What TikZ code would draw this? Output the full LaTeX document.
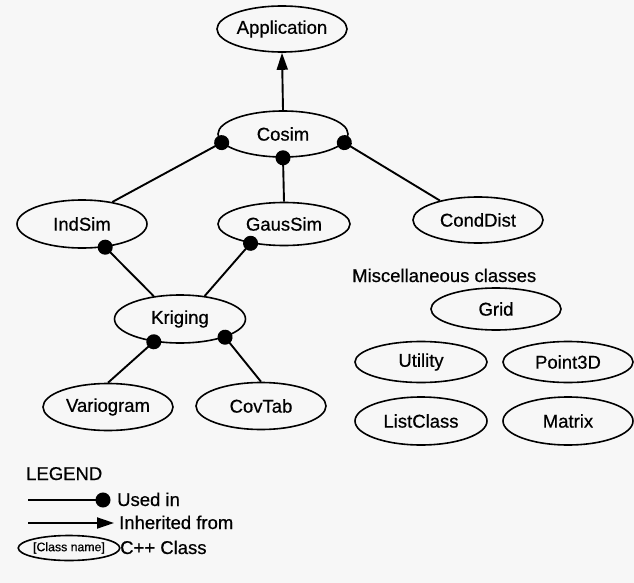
\documentclass[tikz,border=0pt]{standalone}
\usepackage{fontspec}
\setmainfont{Liberation Sans}[FakeBold=0.6]
\usetikzlibrary{shapes.geometric,arrows.meta}
\definecolor{bgcol}{RGB}{247,247,247}
\tikzset{
  cls/.style={draw, ellipse, line width=1.6pt, inner sep=0pt,
    minimum width=130pt, minimum height=46pt,
    font=\fontsize{18.5}{22}\selectfont},
  usedin/.style={line width=1.9pt, -{Circle[length=15pt]}, shorten >=-7.5pt},
  inherit/.style={line width=1.9pt, -{Triangle[length=17pt,width=11pt]}},
  lbl/.style={inner sep=0pt, font=\fontsize{18.5}{22}\selectfont}
}
\begin{document}
\begin{tikzpicture}[x=1pt,y=-1pt]
\useasboundingbox (0,0) rectangle (634,583);
\fill[bgcol] (0,0) rectangle (634,583);

% class nodes
\node[cls] (app) at (282,29) {Application};
\node[cls] (cosim) at (283,134) {Cosim};
\node[cls, minimum height=48pt] (indsim) at (82,224) {IndSim};
\node[cls, minimum height=43pt, minimum width=132pt] (gaussim) at (284,224) {GausSim};
\node[cls] (conddist) at (478,220) {CondDist};
\node[cls, minimum height=48pt, minimum width=131pt] (kriging) at (180,319) {Kriging};
\node[cls, minimum height=47pt] (vario) at (108,407) {Variogram};
\node[cls, minimum height=47pt] (covtab) at (261,406) {CovTab};

% miscellaneous
\node[lbl, anchor=base west] (misc) at (352,282) {Miscellaneous classes};
\node[cls, minimum height=42pt] (grid) at (496,309) {Grid};
\node[cls, minimum height=41pt, minimum width=132pt] (utility) at (421,362) {Utility};
\node[cls, minimum height=41pt] (point) at (568,362) {Point3D};
\node[cls, minimum height=48pt, minimum width=132pt] (list) at (421,421) {ListClass};
\node[cls, minimum height=48pt] (matrix) at (568,421) {Matrix};

% connectors
\draw[inherit] (cosim.north) -- (app.south);
\draw[usedin] (indsim.36) -- (cosim.188);
\draw[usedin] (gaussim.north) -- (cosim.south);
\draw[usedin] (conddist.153) -- (cosim.352);
\draw[usedin] (kriging.139) -- (indsim.-45);
\draw[usedin] (kriging.43) -- (gaussim.-150);
\draw[usedin] (vario.north) -- (kriging.-139);
\draw[usedin] (covtab.north) -- (kriging.-22);

% legend
\node[lbl, anchor=base west] (legend) at (26,480) {LEGEND};
\coordinate (u0) at (28,500);
\coordinate (u1) at (103,500);
\draw[usedin] (u0) -- (u1);
\node[lbl, anchor=base west] (usedtxt) at (117,506) {Used in};
\coordinate (i0) at (28,523);
\coordinate (i1) at (114,523);
\draw[inherit] (i0) -- (i1);
\node[lbl, anchor=base west] (inhtxt) at (119,529) {Inherited from};
\node[draw, ellipse, line width=1.6pt, inner sep=0pt, minimum width=92pt, minimum height=25pt,
  font=\fontsize{12.3}{14}\selectfont] (cn) at (69,548) {[Class name]};
\node[lbl, anchor=base west] (cpptxt) at (120,554) {C++ Class};
\end{tikzpicture}
\end{document}
